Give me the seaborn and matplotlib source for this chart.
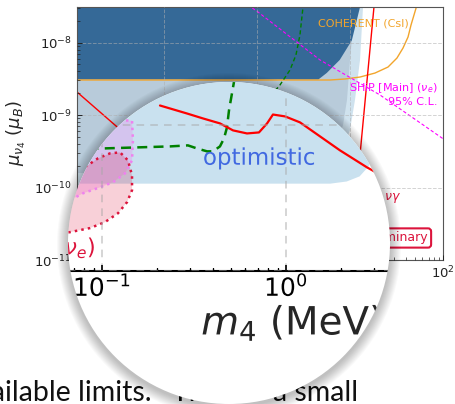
import numpy as np
import matplotlib
matplotlib.use("Agg")
import matplotlib.pyplot as plt
import matplotlib.patheffects as pe
from matplotlib.patches import Circle
from matplotlib.text import Text
from matplotlib.axis import Axis, Tick
import seaborn as sns

# every curve is stored as log10 values: m4 in MeV, mu in units of mu_B

# main chart (seen outside the magnifier)
dark_logm = [-2.2, 1.12, 1.108, 1.02, 0.89, 0.75, 0.66, -2.2]
dark_logmu = [-7.3, -7.3, -7.51, -7.97, -8.24, -8.42, -8.51, -8.51]

grey_logm = [-2.2, 1.07, 1.054, 1.0, 0.968, 0.925, 0.785, 0.5, -2.2]
grey_logmu = [-7.3, -7.3, -7.51, -8.24, -8.79, -9.14, -9.62, -9.80, -9.80]

pale_logm = [-2.2, 1.16, 1.14, 1.108, 1.054, 1.0, 0.84, 0.46, -2.2]
pale_logmu = [-7.3, -7.3, -7.51, -8.24, -8.79, -9.21, -9.76, -9.966, -9.966]

coherent_logm = [-2.0, 0.785, 0.946, 1.108, 1.269, 1.409, 1.505, 1.570, 1.624, 1.656, 1.688, 1.720]
coherent_logmu = [-8.517, -8.517, -8.503, -8.476, -8.421, -8.338, -8.214, -8.076, -7.924, -7.759, -7.621, -7.483]

ship_logm = [-0.1, 0.011, 0.677, 1.323, 1.989, 2.05]
ship_logmu = [-7.48, -7.579, -8.24, -8.724, -9.317, -9.37]

green_logm = [0.50, 0.462, 0.419, 0.355, 0.247, 0.14, 0.0, -0.2]
green_logmu = [-7.45, -7.897, -8.172, -8.379, -8.586, -8.752, -8.9, -9.0]

red_left_logm = [-2.0, -1.40]
red_left_logmu = [-8.61, -9.28]

red_right_logm = [1.266, 1.104]
red_right_logmu = [-7.4, -9.6]

# magnified view
opt_logm = [-2.2, 0.24, 0.33, 0.40, 0.45, 0.50, 0.55, 0.62, 0.7, -2.2]
opt_logmu = [-10.40, -10.40, -10.385, -10.35, -10.28, -10.15, -9.9, -9.3, -7.0, -7.0]

violet_logm = [-1.554, -0.837, -0.832, -0.837, -0.875, -0.940, -1.011, -1.103, -1.174, -1.391]
violet_logmu = [-9.966, -9.966, -10.103, -10.240, -10.329, -10.390, -10.425, -10.466, -10.514, -10.616]

crimson_logm = [-1.228, -1.103, -1.022, -0.957, -0.902, -0.859, -0.837, -0.837, -0.864, -0.913,
                -0.984, -1.065, -1.174, -1.337]
crimson_logmu = [-10.342, -10.295, -10.226, -10.192, -10.185, -10.240, -10.342, -10.445, -10.527,
                 -10.603, -10.664, -10.705, -10.733, -10.760]

in_green_logm = [-1.25, -0.995, -0.630, -0.533, -0.484, -0.429, -0.397, -0.359, -0.337, -0.321,
                 -0.310, -0.293, -0.272]
in_green_logmu = [-10.158, -10.158, -10.144, -10.137, -10.158, -10.178, -10.178, -10.144, -10.089,
                  -10.014, -9.897, -9.774, -9.623]

in_red_logm = [-0.685, -0.538, -0.451, -0.359, -0.288, -0.212, -0.147, -0.103, -0.071,
               -0.005, 0.076, 0.293, 0.440, 0.50]
in_red_logmu = [-9.863, -9.918, -9.952, -9.986, -10.034, -10.055, -10.048, -9.986, -9.925,
                -9.938, -9.979, -10.171, -10.288, -10.33]

XLIM = (10 ** -1.935, 1e2)
YLIM = (1e-11, 10 ** -7.51)

DARK = "#356997"
GREY = "#b8cbda"
PALE = "#cfe2ee"
OPT = "#c9e1ef"
ORANGE = "#f2a52c"
CRIMSON = "#dc143c"

# magnifier circle, figure pixels from the top-left
LX, LY, LR = 229, 243, 161

sns.set_theme(style="ticks")
plt.rcParams["font.family"] = ["DejaVu Sans"]


def curve(axis, lm, lmu, **kw):
    sns.lineplot(x=10 ** np.asarray(lm), y=10 ** np.asarray(lmu), ax=axis,
                 sort=False, estimator=None, **kw)


def region(axis, lm, lmu, **kw):
    axis.fill(10 ** np.asarray(lm), 10 ** np.asarray(lmu), **kw)


fig = plt.figure(figsize=(4.55, 4.04), dpi=100)

# ---- main chart ----
ax = fig.add_axes([77 / 455, 1 - 260 / 404, 366 / 455, 253 / 404], zorder=1)
ax.set_xscale("log")
ax.set_yscale("log")

region(ax, pale_logm, pale_logmu, color=PALE, lw=0, zorder=1)
region(ax, grey_logm, grey_logmu, color=GREY, lw=0, zorder=1.1)
region(ax, dark_logm, dark_logmu, color=DARK, lw=0, zorder=1.2)

curve(ax, coherent_logm, coherent_logmu, color=ORANGE, lw=1.0)
curve(ax, ship_logm, ship_logmu, color="magenta", lw=0.8, linestyle=(0, (3, 2)))
curve(ax, green_logm, green_logmu, color="green", lw=1.0, linestyle=(0, (3, 2)))
curve(ax, red_left_logm, red_left_logmu, color="red", lw=1.0)
curve(ax, red_right_logm, red_right_logmu, color="red", lw=1.0)

ax.text(0.658, 0.933, "COHERENT (CsI)", transform=ax.transAxes, color=ORANGE,
        fontsize=8, va="center")
ax.text(0.984, 0.680, r"SHiP [Main] ($\nu_e$)", transform=ax.transAxes, color="magenta",
        fontsize=8, ha="right", va="center")
ax.text(0.984, 0.625, "95% C.L.", transform=ax.transAxes, color="magenta",
        fontsize=8, ha="right", va="center")
ax.text(0.888, 0.249, r"$N\to\nu\gamma$", transform=ax.transAxes, color=CRIMSON,
        fontsize=9, ha="right", va="center")
ax.text(0.959, 0.087, "Preliminary", transform=ax.transAxes, color=CRIMSON, fontsize=9,
        ha="right", va="center",
        bbox=dict(boxstyle="round,pad=0.25", fc="white", ec=CRIMSON, lw=1.5))

ax.set_xlim(*XLIM)
ax.set_ylim(*YLIM)
ax.grid(True, which="major", color="#b0b0b0", alpha=0.55, ls="--", lw=0.7)
ax.set_axisbelow(False)
for s in ax.spines.values():
    s.set_color("#555555")
    s.set_linewidth(0.8)
ax.tick_params(which="both", direction="in", labelsize=9.5, colors="#222222")
ax.tick_params(which="major", length=3.5, width=0.7)
ax.tick_params(which="minor", length=2, width=0.5)
ax.set_xlabel(r"$m_4$ (MeV)", fontsize=14)
ax.set_ylabel(r"$\mu_{\nu_4}$ ($\mu_B$)", fontsize=13)
ax.yaxis.set_label_coords(-0.134, 0.5)

# text of the page below the chart
for s, x, ha in [("available limits.", 152, "right"), ("This is", 172, "left"),
                 ("a small", 273, "left")]:
    fig.text(x / 455, 1 - 401 / 404, s, ha=ha, va="baseline", fontsize=20.5,
             family="Lato", color="#111111", zorder=1.5)

# ---- magnifier: soft shadow and white lens ----
ov = fig.add_axes([0, 0, 1, 1], zorder=2)
ov.set_xlim(0, 455)
ov.set_ylim(404, 0)
ov.axis("off")
ov.patch.set_alpha(0)
for k in range(11, 0, -1):
    ov.add_patch(Circle((LX, LY + 2), LR + k, fc="black", ec="none", alpha=0.022))
ov.add_patch(Circle((LX, LY), LR, fc="white", ec="none"))

# ---- magnified chart ----
ax_in = fig.add_axes([-70 / 455, 1 - 271 / 404, 724 / 455, 508 / 404], zorder=3)
ax_in.patch.set_visible(False)
ax_in.set_xscale("log")
ax_in.set_yscale("log")

region(ax_in, opt_logm, opt_logmu, color=OPT, lw=0, zorder=1)
region(ax_in, violet_logm, violet_logmu, fc="violet", alpha=0.3, lw=0, zorder=1.2)
region(ax_in, crimson_logm, crimson_logmu, fc=CRIMSON, alpha=0.2, lw=0, zorder=1.3)
region(ax_in, violet_logm, violet_logmu, fill=False, ec="violet", lw=1.8, ls=":", zorder=2.1)
region(ax_in, crimson_logm, crimson_logmu, fill=False, ec=CRIMSON, lw=1.8, ls=":", zorder=2.2)

curve(ax_in, in_green_logm, in_green_logmu, color="green", lw=1.8, linestyle=(0, (4, 2.5)))
curve(ax_in, in_red_logm, in_red_logmu, color="red", lw=1.6)

ax_in.text(0.377, 0.222, "optimistic", transform=ax_in.transAxes, color="#4169e1",
           fontsize=16.5, va="center")
ax_in.text(0.229, 0.045, r"($\nu_e$)", transform=ax_in.transAxes, color=CRIMSON,
           fontsize=16, ha="right", va="center")

ax_in.set_xlim(*XLIM)
ax_in.set_ylim(*YLIM)
ax_in.grid(True, which="major", color="#a8a8a8", alpha=0.6, ls=(0, (5, 4)), lw=1.1)
ax_in.set_axisbelow(False)
for side in ["top", "left", "right"]:
    ax_in.spines[side].set_visible(False)
ax_in.spines["bottom"].set_color("black")
ax_in.spines["bottom"].set_linewidth(1.5)
ax_in.tick_params(axis="x", which="both", direction="in", labelsize=18, pad=2,
                  colors="black")
ax_in.tick_params(axis="x", which="major", length=4, width=1.2)
ax_in.tick_params(axis="x", which="minor", length=2.2, width=1.0)
ax_in.tick_params(axis="y", which="both", left=False, labelleft=False)
ax_in.set_xlabel(r"$m_4$ (MeV)", fontsize=28)
ax_in.set_ylabel("")
ax_in.xaxis.set_label_coords(0.5, -0.062)

# clip the whole magnified chart to the lens.
# Agg caches the clip mask, so artists that live outside the axes box
# (labels, ticks, spine) get their own, slightly different circle.
fig.canvas.draw()
lens = Circle((LX, LY), LR, transform=ov.transData)
lens_out = Circle((LX, LY), LR + 0.01, transform=ov.transData)
for art in ax_in.findobj(lambda a: a is not ax_in and a is not ax_in.patch):
    if isinstance(art, (Axis, Tick)):
        continue
    art.set_clip_on(True)
    if isinstance(art, Text):
        art.set_path_effects([pe.Normal()])
        art.set_clip_path(lens_out)
    elif art.get_clip_box() is None:
        art.set_clip_path(lens_out)
    else:
        art.set_clip_path(lens)
for t in ax_in.xaxis.get_major_ticks() + ax_in.yaxis.get_major_ticks():
    t.gridline.set_clip_box(ax_in.bbox)
    t.gridline.set_clip_path(lens)

fig.savefig("out.png", dpi=100)
